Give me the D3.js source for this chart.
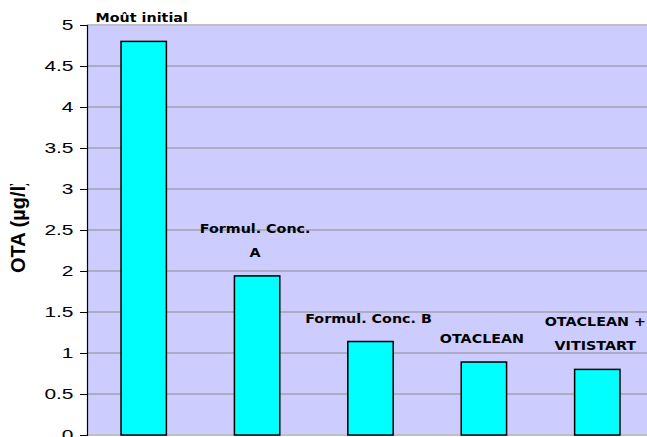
<!DOCTYPE html>
<html>
<head>
<meta charset="utf-8">
<script src="https://cdn.jsdelivr.net/npm/d3@7"></script>
<style>
  body { margin: 0; background: #fff; }
  svg { display: block; }
</style>
</head>
<body>
<div id="chart"></div>
<script>
var categories = ["Moût initial", "Formul. Conc. A", "Formul. Conc. B", "OTACLEAN", "OTACLEAN + VITISTART"];
// labels as they are wrapped above the bars
var barLabels = [["Moût initial"], ["Formul. Conc.", "A"], ["Formul. Conc. B"], ["OTACLEAN"], ["OTACLEAN +", "VITISTART"]];
var values = [4.8, 1.94, 1.14, 0.89, 0.80];
var yTicks = [0, 0.5, 1, 1.5, 2, 2.5, 3, 3.5, 4, 4.5, 5];

var svg = d3.select("#chart")
  .append("svg")
  .attr("width", 647)
  .attr("height", 437);

var margin = { left: 87, top: 25 };
var plotW = 567, plotH = 410;

var x = d3.scaleBand()
  .domain(categories)
  .range([0, plotW])
  .paddingInner(0.6)
  .paddingOuter(0.3);

var y = d3.scaleLinear()
  .domain([0, 5])
  .range([plotH, 0]);

var g = svg.append("g")
  .attr("transform", "translate(" + margin.left + "," + margin.top + ")");

g.append("rect")
  .attr("x", 0)
  .attr("y", 0)
  .attr("width", plotW)
  .attr("height", plotH)
  .attr("fill", "#ccccff");

g.append("line")
  .attr("x1", 0).attr("x2", plotW)
  .attr("y1", 0).attr("y2", 0)
  .attr("stroke", "#c0c0c0")
  .attr("stroke-width", 2);

// gridlines
g.selectAll(".grid")
  .data(yTicks.filter(function(d) { return d > 0 && d < 5; }))
  .enter().append("line")
  .attr("class", "grid")
  .attr("x1", 0).attr("x2", plotW)
  .attr("y1", function(d) { return y(d); })
  .attr("y2", function(d) { return y(d); })
  .attr("stroke", "#8c8c8c")
  .attr("stroke-width", 1);

g.append("line")
  .attr("x1", 0).attr("x2", plotW)
  .attr("y1", plotH).attr("y2", plotH)
  .attr("stroke", "#c0c0c0")
  .attr("stroke-width", 2);

// bars
g.selectAll(".bar")
  .data(values)
  .enter().append("rect")
  .attr("class", "bar")
  .attr("x", function(d, i) { return x(categories[i]); })
  .attr("y", function(d) { return y(d); })
  .attr("width", x.bandwidth())
  .attr("height", function(d) { return plotH - y(d); })
  .attr("fill", "#00ffff")
  .attr("stroke", "#000")
  .attr("stroke-width", 1.5);

// labels above bars (the original text is drawn a bit wide)
var lab = g.selectAll(".lab")
  .data(values)
  .enter().append("text")
  .attr("class", "lab")
  .attr("text-anchor", "middle")
  .attr("font-family", "'DejaVu Sans', sans-serif")
  .attr("font-weight", "bold")
  .attr("font-size", "13px")
  .attr("fill", "#000")
  .attr("transform", function(d, i) {
    var n = barLabels[i].length;
    var cx = x(categories[i]) + x.bandwidth() / 2 - 2;
    var cy = y(d) - 19 - (n - 1) * 24;
    return "translate(" + cx + "," + cy + ") scale(1.1,1)";
  });

lab.each(function(d, i) {
  var t = d3.select(this);
  barLabels[i].forEach(function(s, k) {
    t.append("tspan")
      .attr("x", 0)
      .attr("dy", k === 0 ? 0 : 24)
      .text(s);
  });
});

// y axis
var axisY = d3.axisLeft(y)
  .tickValues(yTicks)
  .tickSize(7)
  .tickPadding(3)
  .tickFormat(d3.format("~g"));

var ay = g.append("g").call(axisY);
ay.select(".domain").attr("stroke", "#000").attr("stroke-width", 1.2);
ay.selectAll(".tick line").attr("stroke", "#000");
ay.selectAll(".tick text")
  .attr("font-family", "'Liberation Sans', Arial, sans-serif")
  .attr("font-size", "15.5px")
  .attr("fill", "#000")
  .attr("transform", "scale(1.35,1)");

// y title, cut at the top like the original
svg.append("clipPath")
  .attr("id", "tclip")
  .append("rect")
  .attr("x", 0).attr("y", 184).attr("width", 40).attr("height", 120);

svg.append("g")
  .attr("clip-path", "url(#tclip)")
  .append("text")
  .attr("transform", "translate(25,273) rotate(-90)")
  .attr("x", 0)
  .attr("text-anchor", "start")
  .attr("font-family", "'Liberation Sans', Arial, sans-serif")
  .attr("font-weight", "bold")
  .attr("font-size", "20px")
  .text("OTA (µg/l)");
</script>
</body>
</html>
